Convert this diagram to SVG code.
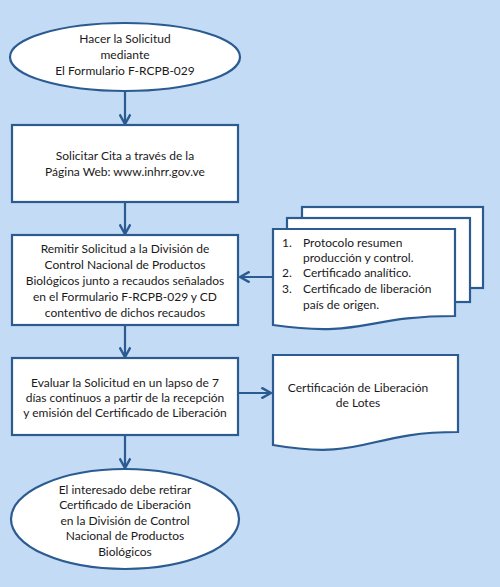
<svg xmlns="http://www.w3.org/2000/svg" width="500" height="587" viewBox="0 0 500 587">
<defs>
<marker id="arr" markerWidth="12" markerHeight="12" refX="9" refY="5" orient="auto" markerUnits="userSpaceOnUse" viewBox="0 0 10 10">
<path d="M1,0.5 L9,5 L1,9.5" fill="none" stroke="#2B5B91" stroke-width="2"/>
</marker>
</defs>
<style>
.shape{fill:#FFFFFF;stroke:#2B5B91;stroke-width:2.2}
.con{fill:none;stroke:#2B5B91;stroke-width:2.2;marker-end:url(#arr)}
text{font-family:Lato,"Open Sans","Liberation Sans",sans-serif;font-size:12px;fill:#1A1A1A}
.c{text-anchor:middle}
</style>
<rect x="0" y="0" width="500" height="587" fill="#C3DBF5"/>
<g id="connectors">
<line class="con" x1="125" y1="92" x2="125" y2="124"/>
<line class="con" x1="125" y1="202" x2="125" y2="234"/>
<line class="con" x1="273" y1="277" x2="240" y2="277"/>
<line class="con" x1="125" y1="325" x2="125" y2="357"/>
<line class="con" x1="238" y1="393" x2="271" y2="393"/>
<line class="con" x1="125" y1="435" x2="125" y2="468"/>
</g>
<g id="n1">
<ellipse class="shape" cx="125" cy="57" rx="115" ry="34"/>
<text class="c" x="125" y="43">Hacer la Solicitud</text>
<text class="c" x="125" y="59">mediante</text>
<text class="c" x="125" y="75">El Formulario F-RCPB-029</text>
</g>
<g id="n2">
<rect class="shape" x="12" y="125" width="226" height="77"/>
<text class="c" x="125" y="160">Solicitar Cita a través de la</text>
<text class="c" x="125" y="176">Página Web: www.inhrr.gov.ve</text>
</g>
<g id="n3">
<rect class="shape" x="12" y="235" width="226" height="90"/>
<text class="c" x="125" y="253">Remitir Solicitud a la División de</text>
<text class="c" x="125" y="269">Control Nacional de Productos</text>
<text class="c" x="125" y="285">Biológicos junto a recaudos señalados</text>
<text class="c" x="125" y="301">en el Formulario F-RCPB-029 y CD</text>
<text class="c" x="125" y="317">contentivo de dichos recaudos</text>
</g>
<g id="n4">
<rect class="shape" x="302" y="207" width="181" height="81"/>
<rect class="shape" x="287" y="218" width="183" height="84"/>
<path class="shape" d="M273,229 H455 V316 C364,316 364,338 273,325 Z"/>
<text x="282" y="247">1.</text><text x="303" y="247">Protocolo resumen</text>
<text x="303" y="262">producción y control.</text>
<text x="282" y="277">2.</text><text x="303" y="277">Certificado analítico.</text>
<text x="282" y="293">3.</text><text x="303" y="293">Certificado de liberación</text>
<text x="303" y="309">país de origen.</text>
</g>
<g id="n5">
<rect class="shape" x="12" y="358" width="226" height="77"/>
<text class="c" x="125" y="387">Evaluar la Solicitud en un lapso de 7</text>
<text class="c" x="125" y="402">días continuos a partir de la recepción</text>
<text class="c" x="125" y="417">y emisión del Certificado de Liberación</text>
</g>
<g id="n6">
<path class="shape" d="M273,355 H458 V432 C365.5,432 365.5,461 273,445 Z"/>
<text class="c" x="358" y="392">Certificación de Liberación</text>
<text class="c" x="358" y="407">de Lotes</text>
</g>
<g id="n7">
<ellipse class="shape" cx="125" cy="519" rx="114" ry="50"/>
<text class="c" x="125" y="494">El interesado debe retirar</text>
<text class="c" x="125" y="509">Certificado de Liberación</text>
<text class="c" x="125" y="525">en la División de Control</text>
<text class="c" x="125" y="540">Nacional de Productos</text>
<text class="c" x="125" y="556">Biológicos</text>
</g>
</svg>
